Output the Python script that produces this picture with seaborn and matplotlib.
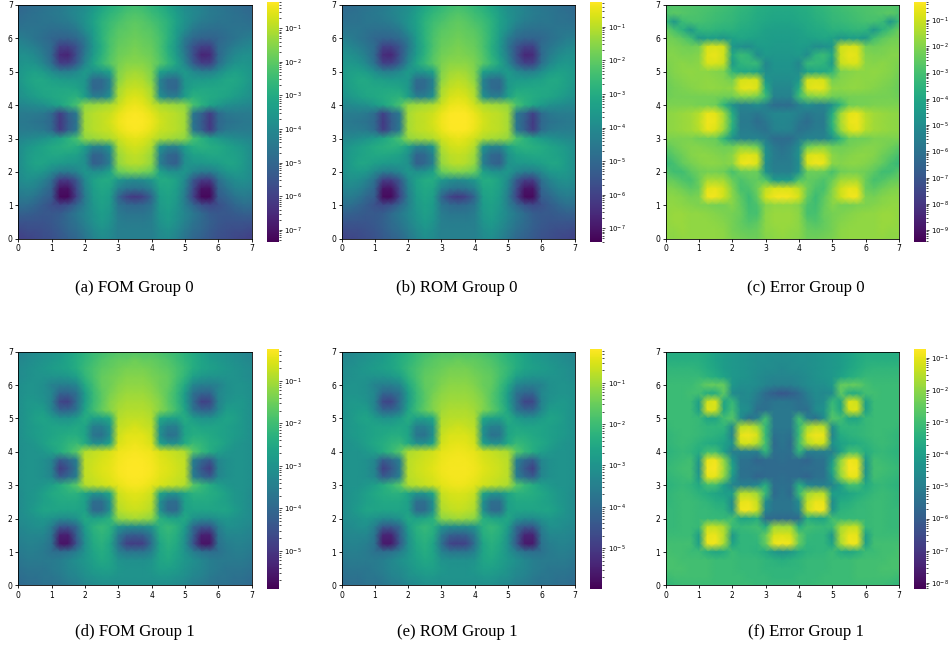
import matplotlib
matplotlib.use("Agg")
import matplotlib.pyplot as plt
from matplotlib.colors import LogNorm
import numpy as np
import seaborn as sns

# log10 of each field, left half of the core, rows from y=7 down to y=0, step 0.25
fom_group0 = [
    [-5.0, -4.9, -4.8, -4.7, -4.6, -4.5, -4.3, -4.1, -3.9, -3.6, -3.2, -2.9, -2.7, -2.5, -2.4],
    [-4.9, -4.8, -4.7, -4.6, -4.5, -4.4, -4.2, -4.0, -3.8, -3.4, -3.0, -2.7, -2.5, -2.3, -2.2],
    [-4.8, -4.7, -4.7, -4.6, -4.6, -4.5, -4.4, -4.1, -3.7, -3.3, -2.8, -2.5, -2.3, -2.1, -2.0],
    [-4.6, -4.6, -4.6, -4.7, -4.8, -4.8, -4.7, -4.5, -3.9, -3.4, -2.8, -2.4, -2.1, -2.0, -1.9],
    [-4.3, -4.4, -4.6, -4.8, -5.0, -5.1, -5.1, -4.9, -4.4, -3.5, -2.8, -2.3, -2.0, -1.9, -1.8],
    [-4.0, -4.1, -4.3, -4.6, -4.9, -6.0, -6.0, -5.5, -4.6, -3.6, -2.9, -2.3, -1.9, -1.8, -1.7],
    [-3.8, -3.8, -4.0, -4.4, -5.0, -6.5, -6.6, -5.6, -4.4, -3.5, -2.8, -2.2, -1.8, -1.7, -1.6],
    [-3.7, -3.6, -3.7, -4.1, -4.8, -6.0, -6.0, -5.3, -4.1, -3.2, -2.6, -2.1, -1.7, -1.5, -1.5],
    [-3.6, -3.4, -3.3, -3.5, -3.9, -4.3, -4.3, -4.0, -3.5, -3.7, -3.6, -3.3, -1.6, -1.3, -1.2],
    [-3.6, -3.3, -3.1, -3.1, -3.3, -3.4, -3.5, -3.5, -3.6, -4.9, -4.9, -4.2, -1.5, -1.1, -1.0],
    [-3.7, -3.4, -3.2, -3.1, -3.1, -3.1, -3.1, -3.2, -3.6, -5.0, -4.9, -4.2, -1.2, -0.9, -0.8],
    [-3.8, -3.6, -3.4, -3.2, -3.1, -3.0, -2.9, -2.8, -3.4, -4.3, -4.3, -3.8, -1.1, -0.7, -0.6],
    [-4.1, -4.0, -3.9, -3.8, -3.5, -3.2, -2.8, -2.3, -1.4, -1.3, -1.2, -1.1, -0.8, -0.5, -0.4],
    [-4.4, -4.4, -4.4, -4.5, -4.9, -6.0, -5.1, -4.5, -1.2, -1.0, -0.9, -0.8, -0.5, -0.3, -0.25],
    [-4.5, -4.5, -4.6, -4.7, -5.0, -6.2, -5.3, -4.6, -1.2, -1.0, -0.9, -0.7, -0.4, -0.25, -0.2],
    [-4.4, -4.4, -4.4, -4.5, -4.9, -6.1, -5.2, -4.5, -1.2, -1.0, -0.9, -0.8, -0.5, -0.3, -0.25],
    [-4.1, -4.0, -3.9, -3.7, -3.5, -3.2, -2.8, -2.3, -1.4, -1.3, -1.2, -1.1, -0.8, -0.6, -0.5],
    [-3.9, -3.6, -3.4, -3.2, -3.0, -2.9, -2.8, -2.9, -3.4, -4.2, -4.2, -3.7, -1.1, -0.8, -0.7],
    [-3.9, -3.5, -3.3, -3.2, -3.1, -3.1, -3.2, -3.3, -3.8, -5.1, -5.0, -4.2, -1.3, -1.0, -0.9],
    [-3.9, -3.5, -3.2, -3.2, -3.4, -3.5, -3.6, -3.6, -3.8, -5.2, -5.0, -4.3, -1.4, -1.1, -1.0],
    [-3.9, -3.6, -3.5, -3.6, -4.0, -4.4, -4.4, -4.1, -3.6, -3.8, -3.7, -3.3, -1.9, -1.7, -1.6],
    [-4.0, -3.8, -3.9, -4.2, -4.8, -6.1, -6.1, -5.4, -4.0, -3.3, -3.0, -3.0, -3.6, -3.9, -4.0],
    [-4.2, -4.1, -4.2, -4.6, -5.1, -7.0, -7.0, -5.7, -4.2, -3.4, -3.1, -3.2, -4.2, -4.6, -4.7],
    [-4.5, -4.4, -4.6, -5.0, -5.3, -7.2, -7.2, -5.9, -4.4, -3.5, -3.2, -3.4, -5.0, -5.9, -6.2],
    [-4.8, -4.8, -5.0, -5.3, -5.6, -5.8, -5.6, -5.0, -4.3, -3.6, -3.3, -3.5, -4.6, -4.9, -5.0],
    [-5.2, -5.2, -5.3, -5.4, -5.4, -5.3, -4.9, -4.5, -4.1, -3.7, -3.4, -3.6, -4.4, -4.6, -4.6],
    [-5.5, -5.5, -5.5, -5.5, -5.4, -5.2, -4.9, -4.6, -4.2, -3.8, -3.5, -3.7, -4.3, -4.4, -4.4],
    [-5.8, -5.7, -5.7, -5.6, -5.5, -5.3, -5.0, -4.8, -4.4, -4.0, -3.7, -3.9, -4.3, -4.3, -4.3],
    [-6.0, -5.9, -5.8, -5.7, -5.6, -5.4, -5.2, -5.0, -4.6, -4.2, -3.9, -4.0, -4.3, -4.3, -4.3],
]

error_group0 = [
    [-2.8, -2.8, -2.8, -2.8, -2.9, -2.9, -3.0, -3.1, -3.2, -3.4, -3.5, -3.7, -3.8, -3.9, -3.9],
    [-2.9, -2.6, -2.7, -2.8, -2.9, -3.0, -3.1, -3.2, -3.3, -3.5, -3.6, -3.8, -3.9, -4.0, -4.0],
    [-3.2, -4.6, -3.2, -3.0, -3.0, -3.1, -3.2, -3.3, -3.4, -3.6, -3.7, -3.9, -4.0, -4.1, -4.1],
    [-2.4, -3.0, -3.6, -4.6, -3.5, -3.4, -3.5, -3.6, -3.6, -3.8, -3.9, -4.0, -4.2, -4.3, -4.3],
    [-2.2, -2.3, -2.6, -3.1, -4.6, -4.4, -4.4, -4.6, -4.2, -4.0, -4.1, -4.2, -4.3, -4.4, -4.4],
    [-2.1, -2.1, -2.2, -2.3, -2.2, -0.9, -0.8, -1.0, -4.6, -4.9, -5.0, -4.5, -4.4, -4.5, -4.5],
    [-2.0, -2.0, -2.1, -2.1, -2.0, -0.7, -0.6, -1.0, -4.0, -3.2, -3.5, -5.0, -4.5, -4.6, -4.6],
    [-2.1, -2.0, -1.9, -2.0, -1.9, -0.8, -0.8, -1.1, -4.5, -3.5, -3.3, -3.3, -5.2, -4.7, -4.7],
    [-2.2, -2.0, -1.9, -1.8, -1.9, -1.9, -2.0, -2.1, -3.5, -4.0, -4.0, -4.2, -5.0, -4.8, -4.8],
    [-2.3, -2.1, -2.0, -1.9, -1.9, -1.8, -1.9, -2.0, -2.2, -0.9, -0.8, -0.9, -4.6, -5.0, -5.0],
    [-2.4, -2.2, -2.1, -2.0, -1.9, -1.8, -1.8, -1.9, -1.8, -0.7, -0.6, -0.8, -3.8, -5.2, -5.2],
    [-2.3, -2.2, -2.2, -2.2, -2.2, -2.2, -2.2, -2.3, -2.3, -2.0, -2.0, -2.2, -3.2, -5.4, -5.4],
    [-2.1, -2.1, -2.1, -2.1, -2.2, -2.2, -2.3, -3.5, -4.8, -5.4, -5.3, -5.0, -5.5, -6.2, -6.2],
    [-1.9, -1.8, -1.7, -1.6, -1.3, -0.6, -0.7, -1.6, -3.8, -5.6, -5.6, -5.8, -5.5, -5.2, -5.2],
    [-1.9, -1.8, -1.7, -1.6, -1.2, -0.5, -0.6, -1.5, -3.5, -5.7, -5.7, -6.2, -5.8, -5.3, -5.2],
    [-1.9, -1.8, -1.7, -1.6, -1.3, -0.6, -0.8, -1.7, -3.8, -5.6, -5.6, -5.8, -6.0, -5.4, -5.3],
    [-2.1, -2.1, -2.1, -2.1, -2.3, -2.3, -2.4, -3.5, -4.8, -5.4, -5.4, -5.3, -5.6, -6.2, -6.2],
    [-2.6, -2.3, -2.1, -2.0, -2.0, -2.1, -2.2, -2.3, -2.3, -1.9, -2.0, -2.3, -5.0, -5.7, -6.0],
    [-3.0, -2.6, -2.3, -2.0, -1.9, -1.9, -2.0, -2.1, -1.9, -0.9, -0.7, -0.9, -4.8, -5.6, -5.8],
    [-3.3, -3.0, -2.5, -2.2, -2.0, -1.9, -1.9, -2.0, -1.9, -0.6, -0.5, -0.8, -5.0, -5.6, -5.6],
    [-2.7, -3.1, -3.1, -2.6, -2.3, -2.2, -2.2, -2.3, -3.0, -2.4, -2.3, -2.4, -4.8, -5.5, -5.5],
    [-2.4, -2.5, -2.8, -3.0, -2.4, -1.5, -1.5, -1.6, -2.4, -2.9, -2.6, -2.5, -2.8, -4.5, -4.5],
    [-2.0, -2.1, -2.3, -2.6, -2.4, -0.7, -0.6, -1.0, -2.0, -3.0, -2.9, -2.3, -1.2, -0.8, -0.8],
    [-1.9, -1.9, -2.0, -2.2, -2.1, -0.5, -0.5, -1.0, -1.9, -2.6, -3.2, -2.5, -0.9, -0.5, -0.4],
    [-1.8, -1.8, -1.9, -2.0, -2.1, -2.1, -2.2, -2.2, -2.0, -2.5, -3.1, -2.9, -2.0, -1.8, -1.8],
    [-1.8, -1.7, -1.7, -1.8, -1.8, -1.9, -2.0, -2.1, -2.2, -2.4, -3.0, -3.0, -1.9, -1.7, -1.7],
    [-1.8, -1.7, -1.7, -1.8, -1.8, -1.8, -1.9, -2.0, -2.2, -2.5, -2.8, -2.6, -1.9, -1.7, -1.7],
    [-1.8, -1.8, -1.7, -1.8, -1.8, -1.8, -1.8, -1.9, -2.2, -2.4, -2.5, -2.4, -1.9, -1.8, -1.7],
    [-1.9, -1.9, -1.8, -1.8, -1.8, -1.8, -1.8, -1.9, -2.1, -2.2, -2.3, -2.3, -2.0, -1.9, -1.8],
]

fom_group1 = [
    [-3.4, -3.3, -3.2, -3.1, -3.0, -2.9, -2.7, -2.5, -2.3, -2.1, -2.0, -1.9, -1.8, -1.8, -1.8],
    [-3.3, -3.2, -3.1, -3.0, -2.9, -2.8, -2.6, -2.4, -2.2, -2.0, -1.8, -1.7, -1.6, -1.6, -1.5],
    [-3.2, -3.1, -3.0, -2.9, -2.8, -2.7, -2.6, -2.4, -2.1, -1.9, -1.7, -1.6, -1.5, -1.4, -1.4],
    [-3.2, -3.1, -3.0, -3.0, -3.0, -3.0, -2.9, -2.7, -2.2, -1.9, -1.6, -1.5, -1.4, -1.3, -1.3],
    [-3.1, -3.0, -3.0, -3.1, -3.4, -3.5, -3.5, -3.3, -2.5, -2.0, -1.6, -1.5, -1.3, -1.2, -1.2],
    [-3.1, -3.0, -3.0, -3.1, -3.3, -4.1, -4.1, -3.8, -2.8, -2.1, -1.7, -1.4, -1.2, -1.1, -1.1],
    [-3.1, -2.9, -2.9, -3.0, -3.4, -4.7, -4.8, -3.9, -2.8, -2.1, -1.7, -1.3, -1.1, -1.0, -1.0],
    [-3.1, -2.9, -2.8, -2.8, -3.3, -4.1, -4.1, -3.7, -2.6, -2.0, -1.6, -1.3, -1.0, -0.9, -0.9],
    [-3.1, -2.9, -2.7, -2.6, -2.8, -3.0, -3.0, -2.8, -2.4, -2.7, -2.7, -2.5, -0.9, -0.8, -0.8],
    [-3.1, -2.9, -2.8, -2.7, -2.6, -2.6, -2.6, -2.5, -2.6, -3.5, -3.5, -3.0, -0.8, -0.7, -0.6],
    [-3.1, -2.9, -2.8, -2.7, -2.6, -2.5, -2.4, -2.4, -2.6, -3.7, -3.8, -3.1, -0.7, -0.5, -0.5],
    [-3.1, -3.0, -2.9, -2.7, -2.5, -2.4, -2.2, -2.1, -2.5, -3.1, -3.1, -2.7, -0.6, -0.45, -0.4],
    [-3.1, -3.0, -3.0, -2.9, -2.7, -2.4, -2.1, -1.7, -0.9, -0.8, -0.7, -0.6, -0.4, -0.35, -0.3],
    [-3.1, -3.0, -3.0, -3.1, -3.3, -4.3, -4.0, -3.5, -0.8, -0.7, -0.6, -0.5, -0.35, -0.28, -0.25],
    [-3.1, -3.0, -3.0, -3.1, -3.4, -4.9, -4.4, -3.6, -0.8, -0.65, -0.55, -0.45, -0.3, -0.25, -0.25],
    [-3.1, -3.0, -3.0, -3.1, -3.3, -4.3, -4.0, -3.5, -0.8, -0.7, -0.6, -0.5, -0.35, -0.28, -0.25],
    [-3.1, -3.0, -3.0, -2.9, -2.7, -2.4, -2.1, -1.7, -0.9, -0.8, -0.7, -0.6, -0.45, -0.35, -0.3],
    [-3.2, -3.0, -2.9, -2.7, -2.5, -2.4, -2.3, -2.3, -2.6, -3.0, -3.0, -2.6, -0.7, -0.55, -0.5],
    [-3.2, -3.0, -2.9, -2.7, -2.6, -2.5, -2.5, -2.5, -2.7, -3.9, -3.9, -3.1, -0.8, -0.65, -0.6],
    [-3.2, -3.0, -2.8, -2.6, -2.6, -2.6, -2.6, -2.6, -2.7, -4.0, -4.0, -3.1, -0.9, -0.75, -0.7],
    [-3.2, -3.1, -3.0, -2.9, -3.0, -3.2, -3.2, -3.0, -2.5, -2.7, -2.6, -2.3, -1.2, -1.1, -1.0],
    [-3.3, -3.2, -3.1, -3.1, -3.5, -4.4, -4.4, -4.0, -2.8, -2.3, -2.1, -2.3, -3.0, -3.2, -3.2],
    [-3.4, -3.3, -3.3, -3.3, -3.7, -5.4, -5.4, -4.2, -3.0, -2.4, -2.2, -2.4, -3.6, -4.2, -4.3],
    [-3.5, -3.4, -3.4, -3.5, -3.8, -5.6, -5.6, -4.4, -3.1, -2.5, -2.3, -2.6, -3.8, -4.8, -4.9],
    [-3.6, -3.5, -3.5, -3.6, -3.8, -3.9, -3.8, -3.5, -3.0, -2.6, -2.4, -2.6, -3.4, -3.7, -3.7],
    [-3.7, -3.6, -3.6, -3.6, -3.6, -3.5, -3.3, -3.1, -2.9, -2.7, -2.5, -2.6, -3.0, -3.1, -3.1],
    [-3.8, -3.7, -3.7, -3.7, -3.6, -3.5, -3.3, -3.2, -3.0, -2.8, -2.7, -2.7, -2.9, -3.0, -3.0],
    [-3.9, -3.8, -3.8, -3.7, -3.7, -3.6, -3.4, -3.3, -3.1, -3.0, -2.9, -2.9, -3.0, -3.0, -3.0],
    [-4.0, -3.9, -3.9, -3.8, -3.8, -3.7, -3.6, -3.5, -3.3, -3.2, -3.1, -3.1, -3.1, -3.1, -3.1],
]

error_group1 = [
    [-3.6, -3.6, -3.6, -3.6, -3.6, -3.7, -3.9, -4.1, -4.2, -4.3, -4.4, -4.5, -4.5, -4.5, -4.6],
    [-3.5, -3.5, -3.5, -3.5, -3.5, -3.7, -3.9, -4.1, -4.2, -4.3, -4.4, -4.5, -4.5, -4.6, -4.6],
    [-3.3, -3.3, -3.3, -3.3, -3.4, -3.6, -3.8, -4.1, -4.2, -4.3, -4.4, -4.5, -4.6, -4.6, -4.7],
    [-3.2, -3.2, -3.2, -3.2, -3.2, -3.4, -3.6, -3.9, -4.2, -4.3, -4.4, -4.6, -4.7, -4.8, -4.8],
    [-3.1, -3.1, -3.1, -3.1, -2.9, -2.5, -2.5, -2.5, -4.2, -4.5, -4.5, -4.6, -4.8, -5.0, -5.0],
    [-3.1, -3.1, -3.1, -3.0, -3.0, -3.6, -3.6, -2.6, -4.6, -4.7, -4.6, -5.0, -5.6, -6.0, -6.2],
    [-3.1, -3.1, -3.1, -3.1, -4.0, -1.3, -1.1, -3.8, -3.2, -4.6, -4.7, -5.2, -5.5, -5.3, -5.2],
    [-3.1, -3.1, -3.1, -3.1, -4.0, -1.1, -1.2, -3.8, -3.0, -4.4, -4.6, -5.5, -5.4, -5.2, -5.2],
    [-3.1, -3.1, -3.1, -3.1, -3.2, -3.8, -3.8, -3.0, -2.7, -4.6, -5.4, -5.0, -3.0, -5.2, -5.2],
    [-3.2, -3.1, -3.1, -3.1, -3.2, -3.3, -3.3, -3.3, -4.6, -1.5, -1.4, -1.8, -3.2, -5.2, -5.2],
    [-3.3, -3.2, -3.1, -3.1, -3.2, -3.3, -3.4, -3.6, -4.8, -1.0, -0.9, -1.2, -3.2, -5.4, -5.3],
    [-3.3, -3.2, -3.1, -3.2, -3.4, -3.6, -3.7, -3.9, -4.4, -1.3, -1.2, -1.6, -3.0, -5.6, -5.3],
    [-3.4, -3.3, -3.2, -3.3, -3.6, -3.0, -3.0, -4.0, -5.0, -5.0, -5.0, -5.0, -3.3, -5.5, -5.4],
    [-3.3, -3.2, -3.1, -3.0, -4.2, -1.0, -0.9, -2.0, -4.2, -5.4, -5.4, -5.8, -5.6, -5.6, -5.5],
    [-3.2, -3.1, -3.0, -3.0, -4.4, -0.9, -0.8, -1.8, -3.8, -5.4, -5.5, -5.5, -5.6, -5.6, -5.6],
    [-3.3, -3.2, -3.1, -3.0, -4.2, -1.0, -1.0, -2.0, -4.2, -5.4, -5.4, -5.8, -5.6, -5.6, -5.5],
    [-3.4, -3.3, -3.2, -3.3, -3.7, -3.0, -3.0, -4.0, -4.8, -5.0, -5.0, -4.7, -3.5, -5.5, -5.4],
    [-3.3, -3.2, -3.1, -3.2, -3.4, -3.6, -3.8, -4.0, -4.0, -1.5, -1.5, -1.8, -3.2, -5.6, -5.3],
    [-3.3, -3.2, -3.1, -3.1, -3.2, -3.3, -3.5, -3.6, -4.6, -1.0, -0.95, -1.4, -4.6, -5.3, -5.3],
    [-3.2, -3.2, -3.1, -3.1, -3.2, -3.2, -3.3, -3.4, -4.4, -0.9, -0.85, -1.3, -4.8, -5.3, -5.3],
    [-3.2, -3.2, -3.1, -3.1, -3.2, -3.2, -3.2, -3.2, -3.0, -3.8, -3.8, -3.5, -5.6, -5.6, -5.6],
    [-3.2, -3.2, -3.1, -3.1, -3.2, -1.4, -1.4, -1.7, -3.1, -3.2, -3.1, -3.0, -3.6, -1.8, -1.8],
    [-3.1, -3.1, -3.1, -3.1, -4.0, -1.0, -0.95, -1.6, -4.2, -3.3, -3.3, -3.2, -2.5, -1.2, -1.1],
    [-3.0, -3.0, -3.0, -3.0, -4.0, -0.95, -0.9, -1.7, -3.9, -3.3, -3.3, -3.3, -2.5, -0.95, -0.85],
    [-2.9, -3.0, -3.0, -3.1, -3.1, -3.5, -3.8, -3.6, -3.1, -3.3, -3.3, -3.4, -3.7, -4.2, -4.4],
    [-2.9, -2.9, -3.0, -3.0, -3.0, -3.0, -3.1, -3.1, -3.1, -3.2, -3.2, -3.2, -3.3, -3.4, -3.5],
    [-2.9, -2.9, -2.9, -3.0, -3.0, -3.0, -3.1, -3.1, -3.1, -3.2, -3.2, -3.2, -3.3, -3.3, -3.3],
    [-3.1, -3.0, -3.0, -3.0, -3.0, -3.0, -3.1, -3.1, -3.1, -3.1, -3.2, -3.2, -3.2, -3.3, -3.3],
    [-3.3, -3.2, -3.1, -3.1, -3.1, -3.1, -3.1, -3.1, -3.1, -3.1, -3.1, -3.2, -3.2, -3.2, -3.2],
]

captions = [
    "(a) FOM Group 0", "(b) ROM Group 0", "(c) Error Group 0",
    "(d) FOM Group 1", "(e) ROM Group 1", "(f) Error Group 1",
]
# colour bar limits as log10
color_limits = [(-7.35, -0.21), (-7.4, -0.25), (-9.44, -0.3), (-5.9, -0.25), (-5.99, -0.18), (-8.19, -0.73)]
tick_labels = [0, 1, 2, 3, 4, 5, 6, 7]

W, H = 950, 649
COL_X = [18.3, 341.5, 665.7]
CBAR_X = [266.7, 590.2, 913.5]
ROW_Y = [5.0, 351.7]
CBAR_Y = [1.7, 349.0]
CAPTION_X = [134.5, 457, 806]
CAPTION_Y = [287.5, 632.5]


def px_axes(fig, x, y, w, h):
    return fig.add_axes([x / W, 1 - (y + h) / H, w / W, h / H])


def full_field(half):
    # the pictures are close to mirror symmetric around x=3.5
    half = np.array(half)
    return 10.0 ** np.hstack([half, half[:, -2::-1]])


def draw_panel(fig, values, limits, row, col, caption):
    ax = px_axes(fig, COL_X[col], ROW_Y[row], 233.3, 233.7)
    cax = px_axes(fig, CBAR_X[col], CBAR_Y[row], 12.2, 240)
    sns.heatmap(
        full_field(values),
        ax=ax,
        cbar_ax=cax,
        cmap="viridis",
        norm=LogNorm(10.0 ** limits[0], 10.0 ** limits[1]),
        shading="gouraud",
        xticklabels=False,
        yticklabels=False,
    )
    ax.set_xlim(0, 28)
    ax.set_ylim(28, 0)
    ax.set_xticks(np.arange(8) * 4, tick_labels)
    ax.set_yticks(np.arange(8) * 4, tick_labels[::-1])
    ax.tick_params(labelsize=5.5, length=2.5, width=0.6, pad=1.5, labelrotation=0)
    for spine in ax.spines.values():
        spine.set_visible(True)
        spine.set_linewidth(0.6)
    cax.tick_params(which="both", labelsize=5, width=0.5, pad=1.5)
    cax.tick_params(which="major", length=2.5)
    cax.tick_params(which="minor", length=1.5)
    fig.text(
        CAPTION_X[col] / W, 1 - CAPTION_Y[row] / H, caption,
        family="Liberation Serif", fontsize=12.1, ha="center", va="center",
    )


fig = plt.figure(figsize=(W / 100, H / 100), dpi=100)
panels = [fom_group0, fom_group0, error_group0, fom_group1, fom_group1, error_group1]
for i, values in enumerate(panels):
    draw_panel(fig, values, color_limits[i], i // 3, i % 3, captions[i])

fig.savefig("out.png", dpi=100)
plt.close(fig)
